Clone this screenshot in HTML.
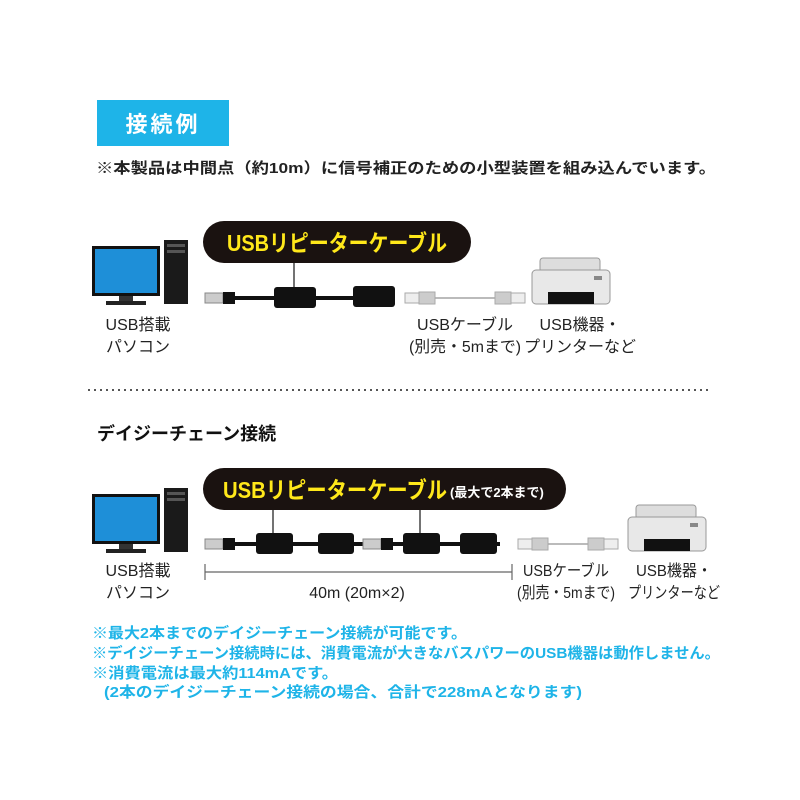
<!DOCTYPE html>
<html><head><meta charset="utf-8"><style>
html,body{margin:0;padding:0;background:#fff;width:800px;height:800px;overflow:hidden}
svg text{font-family:"Liberation Sans","Noto Sans CJK JP",sans-serif}
</style></head><body>
<svg width="800" height="800" viewBox="0 0 800 800" xmlns="http://www.w3.org/2000/svg">
<defs>
<g id="pc">
  <rect x="0" y="6" width="68" height="50" fill="#111"/>
  <rect x="3" y="9" width="62" height="44" fill="#1e8fd8"/>
  <rect x="27" y="56" width="14" height="6" fill="#333"/>
  <rect x="14" y="61" width="40" height="4" fill="#222"/>
  <rect x="72" y="0" width="24" height="64" fill="#1a1a1a"/>
  <rect x="75" y="4" width="18" height="3" fill="#555"/>
  <rect x="75" y="10" width="18" height="3" fill="#555"/>
</g>
<g id="printer">
  <rect x="8" y="0" width="60" height="14" rx="3" fill="#ddd" stroke="#999"/>
  <rect x="0" y="12" width="78" height="34" rx="4" fill="#e8e8e8" stroke="#999"/>
  <rect x="62" y="18" width="8" height="4" fill="#888"/>
  <rect x="16" y="34" width="46" height="12" fill="#111"/>
</g>
<g id="plugB"><rect x="0" y="-5" width="18" height="10" fill="#ccc" stroke="#888"/><rect x="18" y="-6" width="12" height="12" fill="#111"/></g>
<g id="plugG"><rect x="0" y="-5" width="14" height="10" fill="#eee" stroke="#aaa"/><rect x="14" y="-6" width="16" height="12" fill="#ccc" stroke="#aaa"/></g>
<g id="plugGR"><rect x="0" y="-6" width="16" height="12" fill="#ccc" stroke="#aaa"/><rect x="16" y="-5" width="14" height="10" fill="#eee" stroke="#aaa"/></g>
</defs>

<rect x="97" y="100" width="132" height="46" fill="#1eb4e8"/>
<text x="163" y="132" font-size="22" font-weight="bold" fill="#fff" text-anchor="middle" letter-spacing="3">接続例</text>
<text x="96" y="173" font-size="15" font-weight="bold" fill="#222" textLength="620" lengthAdjust="spacingAndGlyphs">※本製品は中間点（約10m）に信号補正のための小型装置を組み込んでいます。</text>

<!-- top diagram -->
<rect x="203" y="221" width="268" height="42" rx="21" fill="#1a1210"/>
<text x="337" y="251" font-size="23" font-weight="bold" fill="#ffe81a" text-anchor="middle" textLength="220" lengthAdjust="spacingAndGlyphs">USBリピーターケーブル</text>
<line x1="294" y1="263" x2="294" y2="288" stroke="#444" stroke-width="1.5"/>
<use href="#pc" x="92" y="240"/>
<line x1="230" y1="298" x2="360" y2="298" stroke="#111" stroke-width="4"/>
<use href="#plugB" x="205" y="298"/>
<rect x="274" y="287" width="42" height="21" rx="3" fill="#111"/>
<rect x="353" y="286" width="42" height="21" rx="3" fill="#111"/>
<line x1="430" y1="298" x2="500" y2="298" stroke="#bbb" stroke-width="2"/>
<use href="#plugG" x="405" y="298"/>
<use href="#plugGR" x="495" y="298"/>
<use href="#printer" x="532" y="258"/>
<g font-size="16" fill="#222" text-anchor="middle">
<text x="138" y="330">USB搭載</text><text x="138" y="352">パソコン</text>
<text x="465" y="330">USBケーブル</text><text x="465" y="352" textLength="112" lengthAdjust="spacingAndGlyphs">(別売・5mまで)</text>
<text x="580" y="330">USB機器・</text><text x="580" y="352">プリンターなど</text>
</g>

<line x1="88" y1="390" x2="712" y2="390" stroke="#555" stroke-width="2" stroke-dasharray="2,4"/>
<text x="97" y="440" font-size="18" font-weight="bold" fill="#111">デイジーチェーン接続</text>

<!-- bottom diagram -->
<rect x="203" y="468" width="363" height="42" rx="21" fill="#1a1210"/>
<text x="223" y="498" font-size="23" font-weight="bold" fill="#ffe81a" textLength="224" lengthAdjust="spacingAndGlyphs">USBリピーターケーブル</text>
<text x="450" y="497" font-size="13" font-weight="bold" fill="#fff">(最大で2本まで)</text>
<line x1="273" y1="510" x2="273" y2="534" stroke="#444" stroke-width="1.5"/>
<line x1="420" y1="510" x2="420" y2="534" stroke="#444" stroke-width="1.5"/>
<use href="#pc" x="92" y="488"/>
<line x1="228" y1="544" x2="370" y2="544" stroke="#111" stroke-width="4"/>
<line x1="390" y1="544" x2="500" y2="544" stroke="#111" stroke-width="4"/>
<use href="#plugB" x="205" y="544"/>
<rect x="256" y="533" width="37" height="21" rx="3" fill="#111"/>
<rect x="318" y="533" width="36" height="21" rx="3" fill="#111"/>
<use href="#plugB" x="363" y="544"/>
<rect x="403" y="533" width="37" height="21" rx="3" fill="#111"/>
<rect x="460" y="533" width="37" height="21" rx="3" fill="#111"/>
<line x1="540" y1="544" x2="595" y2="544" stroke="#bbb" stroke-width="2"/>
<use href="#plugG" x="518" y="544"/>
<use href="#plugGR" x="588" y="544"/>
<use href="#printer" x="628" y="505"/>
<line x1="205" y1="572" x2="512" y2="572" stroke="#666" stroke-width="1.2"/>
<line x1="205" y1="564" x2="205" y2="580" stroke="#666" stroke-width="1.2"/>
<line x1="512" y1="564" x2="512" y2="580" stroke="#666" stroke-width="1.2"/>
<g font-size="16" fill="#222" text-anchor="middle">
<text x="138" y="576">USB搭載</text><text x="138" y="598">パソコン</text>
<text x="357" y="598">40m (20m×2)</text>
<text x="566" y="576" textLength="86" lengthAdjust="spacingAndGlyphs">USBケーブル</text><text x="566" y="598" textLength="98" lengthAdjust="spacingAndGlyphs">(別売・5mまで)</text>
<text x="674" y="576" textLength="76" lengthAdjust="spacingAndGlyphs">USB機器・</text><text x="674" y="598" textLength="92" lengthAdjust="spacingAndGlyphs">プリンターなど</text>
</g>

<g font-size="15" font-weight="bold" fill="#1eb4e8">
<text x="92" y="638" textLength="375" lengthAdjust="spacingAndGlyphs">※最大2本までのデイジーチェーン接続が可能です。</text>
<text x="92" y="658" textLength="628" lengthAdjust="spacingAndGlyphs">※デイジーチェーン接続時には、消費電流が大きなバスパワーのUSB機器は動作しません。</text>
<text x="92" y="678" textLength="246" lengthAdjust="spacingAndGlyphs">※消費電流は最大約114mAです。</text>
<text x="104" y="697" textLength="478" lengthAdjust="spacingAndGlyphs">(2本のデイジーチェーン接続の場合、合計で228mAとなります)</text>
</g>
</svg>
</body></html>
